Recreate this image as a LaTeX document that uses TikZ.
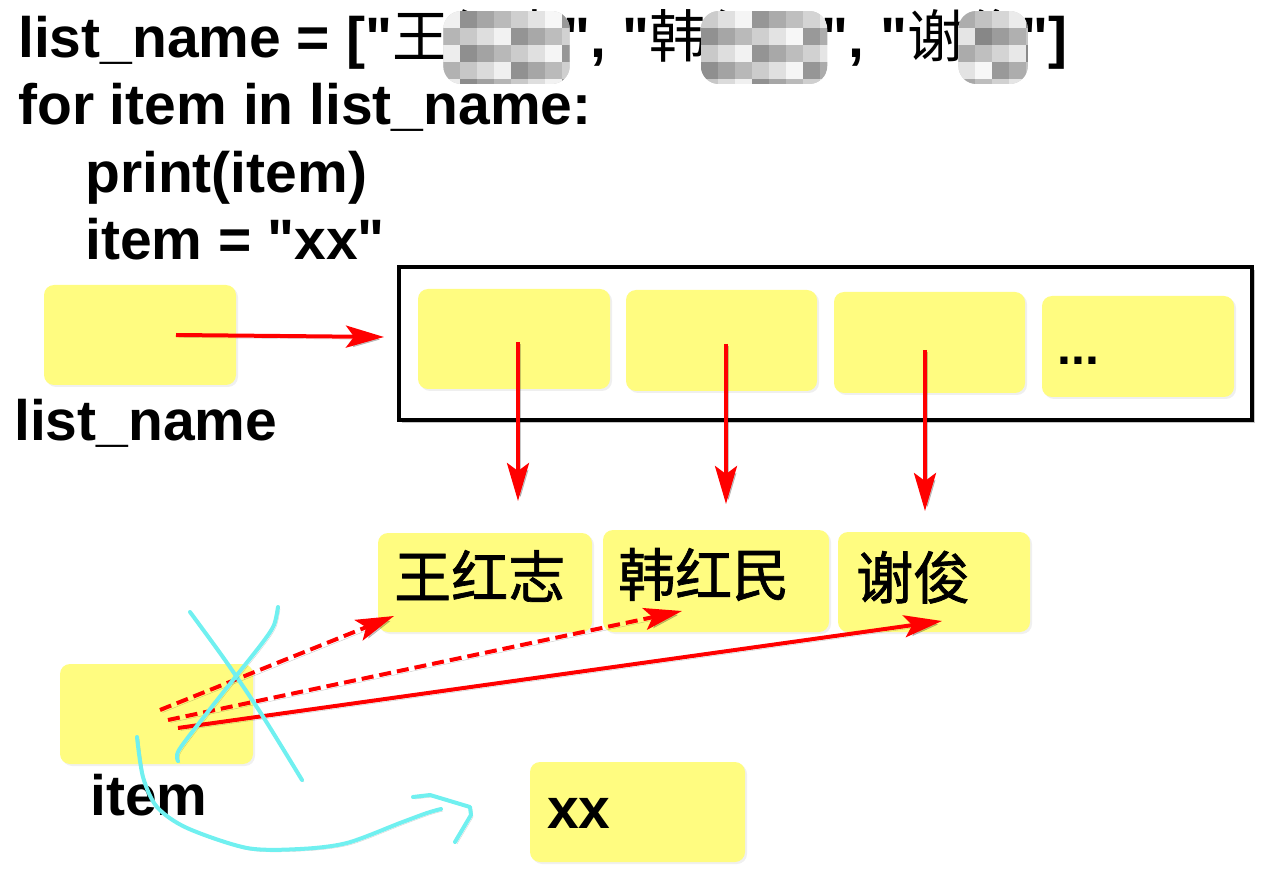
\documentclass[tikz,border=0pt]{standalone}
\usepackage{fontspec}
\setmainfont{Liberation Sans}[Ligatures=TeXOff]
\newfontfamily\cjk{Noto Sans CJK SC}
\newfontfamily\cjkb[FakeBold=1.2]{Noto Sans CJK SC}
\usetikzlibrary{arrows.meta,calc,shadows}
\definecolor{yfill}{RGB}{255,252,128}
\definecolor{cyanink}{RGB}{112,240,240}
\newcommand\mosaicpatch[3]{% node, seed, columns
  \begin{scope}
    \path ($(#1.base west)+(-6,-47)$) coordinate (#1-a)
          ($(#1.base east)+(6,26)$) coordinate (#1-b);
    \clip[rounded corners=18pt] (#1-a) rectangle (#1-b);
    \fill[black!18] (#1-a) rectangle (#1-b);
    \foreach \i in {0,...,#3}{
      \foreach \j in {0,...,4}{
        \pgfmathtruncatemacro\g{mod(\i*37+\j*23+#2,45)+3}
        \fill[black!\g] ($(#1-a)+(\i*17,\j*17)$) rectangle ++(17,17);
      }
    }
  \end{scope}}
\begin{document}
\begin{tikzpicture}[x=1pt,y=-1pt,
  ybox/.style={fill=yfill, rounded corners=10pt, inner sep=0pt, draw=none,
    drop shadow={opacity=0.12, shadow xshift=2pt, shadow yshift=-2pt}},
  code/.style={font=\fontsize{57}{60}\selectfont\bfseries, inner sep=0pt, anchor=base west},
  cjkname/.style={font=\fontsize{57}{60}\selectfont\cjkb, inner sep=0pt, anchor=base west},
  shadowed/.style={preaction={draw=black, opacity=0.22, transform canvas={shift={(2.5pt,-2.5pt)}}}},
  redarrow/.style={draw=red, line width=4pt, shadowed, -{Stealth[length=38pt,width=22pt,inset=8pt]}},
  reddash/.style={redarrow, dash pattern=on 12pt off 6pt},
  ink/.style={draw=cyanink, line width=4pt, line cap=round, line join=round,
    preaction={draw=black, opacity=0.18, transform canvas={shift={(2pt,-2pt)}}}}
]
\useasboundingbox (0,0) rectangle (1278,877);

% ---- code lines ----
\node[code] (p1) at (18,58) {list\_name = ["{\cjk\mdseries 王}};
\node[code] (p2) at (p1.base east) {\cjk\mdseries 红志};
\node[code] (p3) at (p2.base east) {", "{\cjk\mdseries 韩}};
\node[code] (p4) at (p3.base east) {\cjk\mdseries 红民};
\node[code] (p5) at (p4.base east) {", "{\cjk\mdseries 谢}};
\node[code] (p6) at (p5.base east) {\cjk\mdseries 俊};
\node[code] (p7) at (p6.base east) {"]};
\mosaicpatch{p2}{3}{8}
\mosaicpatch{p4}{17}{8}
\mosaicpatch{p6}{29}{4}

\node[code] (l2) at (18,125) {for item in list\_name:};
\node[code] (l3) at (85,193) {print(item)};
\node[code] (l4) at (85,260) {item = "xx"};

% ---- list_name variable ----
\node[ybox, minimum width=192pt, minimum height=100pt] (ln) at (140,335) {};
\node[code] (lnlabel) at (14,440) {list\_name};

% ---- list object ----
\node[draw=black, line width=4.5pt, minimum width=853pt, minimum height=153pt, inner sep=0pt,
  drop shadow={opacity=0.45, shadow xshift=3pt, shadow yshift=-3pt}, fill=white] (arr) at (825.5,343.5) {};
\node[ybox, minimum width=192pt, minimum height=100pt] (e1) at (514,339) {};
\node[ybox, minimum width=191pt, minimum height=101pt] (e2) at (721.5,340.5) {};
\node[ybox, minimum width=191pt, minimum height=101pt] (e3) at (929.5,342.5) {};
\node[ybox, minimum width=192pt, minimum height=101pt] (e4) at (1138,346.5) {};
\node[code, font=\fontsize{50}{60}\selectfont\bfseries] (dots) at (1057,365) {...};

% ---- string objects ----
\node[ybox, minimum width=214pt, minimum height=99pt] (n1) at (485,582.5) {};
\node[ybox, minimum width=226pt, minimum height=102pt] (n2) at (716,581) {};
\node[ybox, minimum width=192pt, minimum height=100pt] (n3) at (934,582) {};
\node[cjkname] (t1) at (394,598) {王红志};
\node[cjkname] (t2) at (618,596) {韩红民};
\node[cjkname] (t3) at (856,599) {谢俊};

% ---- item variable and xx ----
\node[ybox, minimum width=193pt, minimum height=100pt] (it) at (156.5,714) {};
\node[code] (itlabel) at (90,815) {item};
\node[ybox, minimum width=215pt, minimum height=100pt] (xxb) at (637.5,812) {};
\node[code] (xx) at (547,828) {xx};

% ---- connector end points ----
\coordinate (lnout) at (176,335);
\coordinate (arrin) at (384,337);
\coordinate (e1out) at (518,342);
\coordinate (e2out) at (726,344);
\coordinate (e3out) at (925,350);
\coordinate (n1in) at (518,501);
\coordinate (n2in) at (726,504);
\coordinate (n3in) at (925,511);
\coordinate (it1) at (160,710);
\coordinate (it2) at (168,720);
\coordinate (it3) at (178,728);
\coordinate (n1p) at (394,616);
\coordinate (n2p) at (682,611);
\coordinate (n3p) at (942,621);

% ---- red arrows ----
\draw[redarrow] (lnout) -- (arrin);
\draw[redarrow] (e1out) -- (n1in);
\draw[redarrow] (e2out) -- (n2in);
\draw[redarrow] (e3out) -- (n3in);
\draw[reddash] (it1) -- (n1p);
\draw[reddash] (it2) -- (n2p);
\draw[redarrow] (it3) -- (n3p);

% ---- cyan hand-drawn marks ----
\draw[ink] plot[smooth, tension=0.5] coordinates {(190,612) (225,660) (262,715) (302,780)};
\draw[ink] plot[smooth, tension=0.5] coordinates {(278,607) (274,625) (263,642) (237,675) (207,713) (179,750) (178,761)};
\draw[ink] plot[smooth, tension=0.5] coordinates {(137,737) (143,777) (157,807) (187,828) (247,848) (300,849) (347,843) (400,823) (427,813) (441,809)};
\draw[ink] (413,797) -- (430,795) -- (470,807) -- (471,815) -- (455,842);
\end{tikzpicture}
\end{document}
